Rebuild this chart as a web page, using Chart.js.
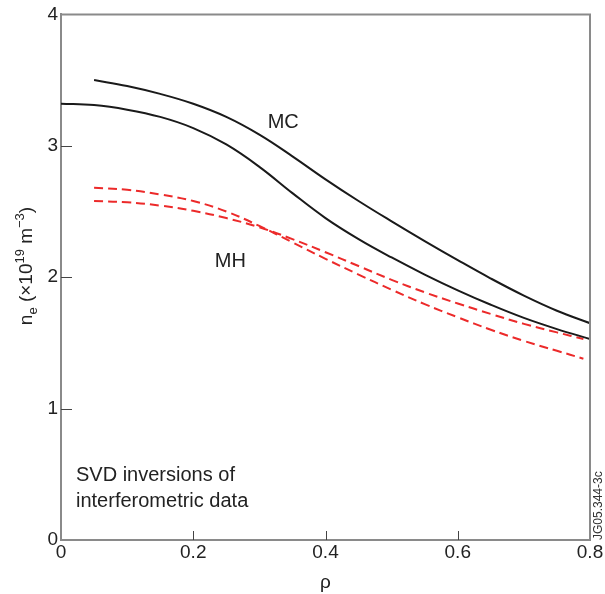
<!DOCTYPE html>
<html>
<head>
<meta charset="utf-8">
<script src="https://cdn.jsdelivr.net/npm/chart.js@4"></script>
<style>
  html, body { margin: 0; padding: 0; background: #fff; }
  #wrap { width: 605px; height: 594px; }
</style>
</head>
<body>
<div id="wrap"><canvas id="chart" width="605" height="594"></canvas></div>
<script>
/* ne profiles — SVD inversions of interferometric data */

// rho grid for each curve
const rhoMC = [0.05, 0.1, 0.15, 0.2, 0.25, 0.3, 0.35, 0.4, 0.45, 0.5, 0.55, 0.6, 0.65, 0.7, 0.75, 0.8];
const neMC = [3.50, 3.455, 3.395, 3.32, 3.22, 3.085, 2.92, 2.745, 2.58, 2.425, 2.275, 2.13, 1.99, 1.86, 1.745, 1.65];

const rhoMC2 = [0, 0.05, 0.1, 0.15, 0.2, 0.25, 0.3, 0.35, 0.4, 0.45, 0.5, 0.55, 0.6, 0.65, 0.7, 0.75, 0.8];
const neMC2 = [3.32, 3.31, 3.275, 3.22, 3.135, 3.01, 2.84, 2.64, 2.45, 2.29, 2.15, 2.02, 1.90, 1.79, 1.69, 1.605, 1.53];

const rhoMH = [0.05, 0.1, 0.15, 0.2, 0.25, 0.3, 0.35, 0.4, 0.45, 0.5, 0.55, 0.6, 0.65, 0.7, 0.75, 0.79];
const neMH1 = [2.68, 2.665, 2.63, 2.58, 2.50, 2.39, 2.265, 2.14, 2.02, 1.905, 1.795, 1.695, 1.60, 1.515, 1.44, 1.38];
const neMH2 = [2.58, 2.57, 2.545, 2.505, 2.45, 2.38, 2.29, 2.19, 2.085, 1.98, 1.885, 1.80, 1.72, 1.645, 1.58, 1.53];

const xTicks = [0, 0.2, 0.4, 0.6, 0.8];
const yTicks = [0, 1, 2, 3, 4];

const FONT = 'Liberation Sans, Arial, Helvetica, sans-serif';
const AXIS_GREY = '#8a8a8a';

function pts(xs, ys) {
  return xs.map((x, i) => ({ x: x, y: ys[i] }));
}

// inner ticks, frame, annotations
const decor = {
  id: 'decor',
  afterDraw(chart) {
    const ctx = chart.ctx;
    const a = chart.chartArea;
    const xs = chart.scales.x, ys = chart.scales.y;
    ctx.save();

    // frame top + right
    ctx.strokeStyle = AXIS_GREY;
    ctx.lineWidth = 2;
    ctx.beginPath();
    ctx.moveTo(a.left, a.top);
    ctx.lineTo(a.right, a.top);
    ctx.lineTo(a.right, a.bottom);
    ctx.stroke();

    // inward ticks
    ctx.strokeStyle = '#444';
    ctx.lineWidth = 1;
    ctx.beginPath();
    yTicks.slice(1, -1).forEach(v => {
      const py = Math.round(ys.getPixelForValue(v)) + 0.5;
      ctx.moveTo(a.left, py);
      ctx.lineTo(a.left + 11, py);
    });
    xTicks.slice(1, -1).forEach(v => {
      const px = Math.round(xs.getPixelForValue(v)) + 0.5;
      ctx.moveTo(px, a.bottom);
      ctx.lineTo(px, a.bottom - 9);
    });
    ctx.stroke();

    // text inside the plot
    ctx.fillStyle = '#222';
    ctx.font = '20px ' + FONT;
    ctx.textAlign = 'center';
    ctx.textBaseline = 'middle';
    ctx.fillText('MC', xs.getPixelForValue(0.336), ys.getPixelForValue(3.18));
    ctx.fillText('MH', xs.getPixelForValue(0.256), ys.getPixelForValue(2.12));
    ctx.textAlign = 'left';
    ctx.textBaseline = 'alphabetic';
    ctx.fillText('SVD inversions of', a.left + 15, 481);
    ctx.fillText('interferometric data', a.left + 15, 507);

    // figure id, vertical
    ctx.save();
    ctx.translate(602, a.bottom);
    ctx.rotate(-Math.PI / 2);
    ctx.font = '12px ' + FONT;
    ctx.fillStyle = '#333';
    ctx.textAlign = 'left';
    ctx.textBaseline = 'alphabetic';
    ctx.fillText('JG05.344-3c', 0, 0);
    ctx.restore();

    // y axis title with sub/superscripts
    ctx.save();
    ctx.translate(32, 266);
    ctx.rotate(-Math.PI / 2);
    ctx.fillStyle = '#222';
    const parts = [
      { t: 'n', size: 19, dy: 0 },
      { t: 'e', size: 13, dy: 5 },
      { t: ' (\u00d710', size: 19, dy: 0 },
      { t: '19', size: 13, dy: -8 },
      { t: ' m', size: 19, dy: 0 },
      { t: '\u22123', size: 13, dy: -8 },
      { t: ')', size: 19, dy: 0 }
    ];
    let total = 0;
    parts.forEach(p => { ctx.font = p.size + 'px ' + FONT; p.w = ctx.measureText(p.t).width; total += p.w; });
    let cx = -total / 2;
    ctx.textAlign = 'left';
    ctx.textBaseline = 'alphabetic';
    parts.forEach(p => {
      ctx.font = p.size + 'px ' + FONT;
      ctx.fillText(p.t, cx, p.dy);
      cx += p.w;
    });
    ctx.restore();

    ctx.restore();
  }
};

const lineStyle = { borderWidth: 2, showLine: true, pointRadius: 0, tension: 0.4 };

new Chart(document.getElementById('chart'), {
  type: 'scatter',
  data: {
    datasets: [
      { ...lineStyle, data: pts(rhoMC, neMC), borderColor: '#1a1a1a' },
      { ...lineStyle, data: pts(rhoMC2, neMC2), borderColor: '#1a1a1a' },
      { ...lineStyle, data: pts(rhoMH, neMH1), borderColor: '#ec2a2a', borderDash: [9, 5] },
      { ...lineStyle, data: pts(rhoMH, neMH2), borderColor: '#ec2a2a', borderDash: [9, 5] }
    ]
  },
  options: {
    responsive: false,
    animation: false,
    layout: { padding: { left: 0, right: 15, top: 12, bottom: 0 } },
    plugins: { legend: { display: false }, tooltip: { enabled: false } },
    scales: {
      x: {
        type: 'linear',
        min: 0, max: 0.8,
        afterBuildTicks: s => { s.ticks = xTicks.map(v => ({ value: v })); },
        ticks: { font: { size: 19, family: FONT }, color: '#222', padding: 1, maxRotation: 0,
          callback: v => (v === 0 ? '0' : v.toFixed(1)) },
        grid: { display: false, drawTicks: false },
        border: { display: true, color: AXIS_GREY, width: 2 },
        title: { display: true, text: '\u03c1', font: { size: 19, family: FONT }, color: '#222', padding: { top: 2, bottom: 0 } },
        afterFit: s => { s.height = 54; }
      },
      y: {
        type: 'linear',
        min: 0, max: 4,
        afterBuildTicks: s => { s.ticks = yTicks.map(v => ({ value: v })); },
        ticks: { font: { size: 19, family: FONT }, color: '#222', padding: 3 },
        grid: { display: false, drawTicks: false },
        border: { display: true, color: AXIS_GREY, width: 2 },
        afterFit: s => { s.width = 61; }
      }
    }
  },
  plugins: [decor]
});
</script>
</body>
</html>
